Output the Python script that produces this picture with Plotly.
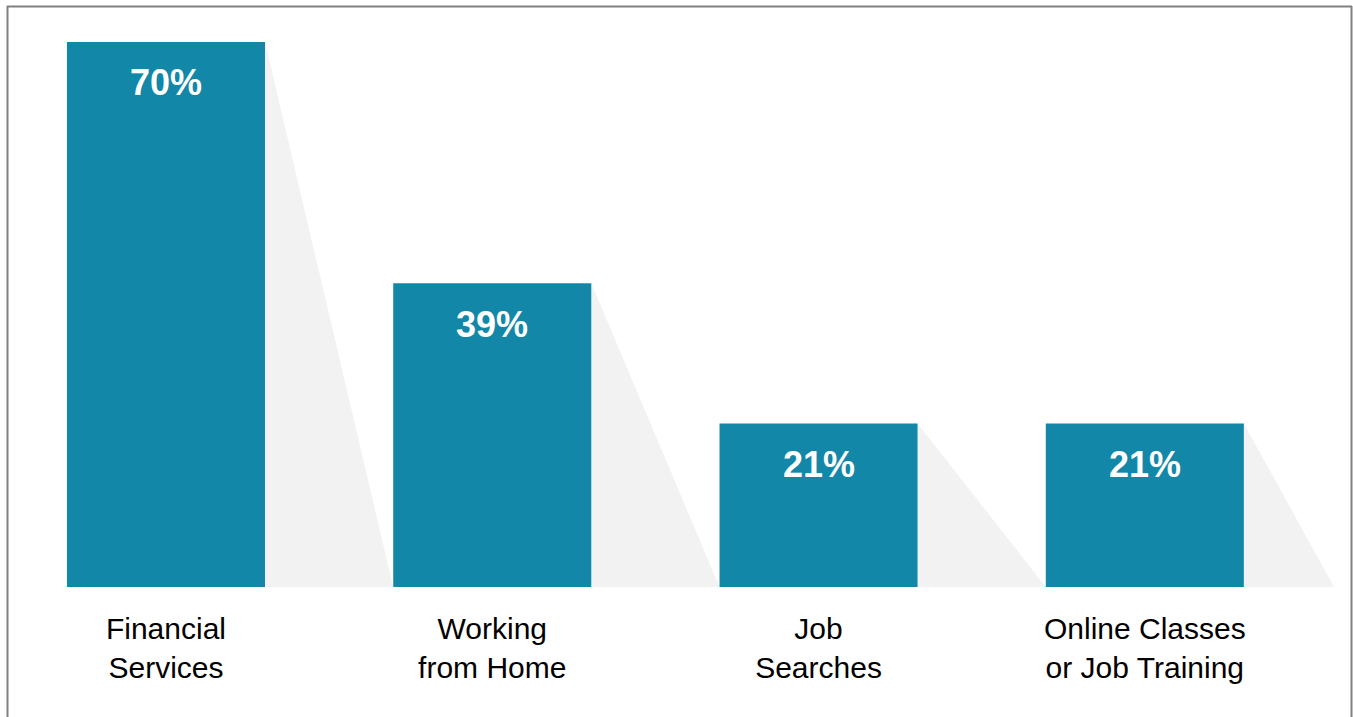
import plotly.graph_objects as go

categories = ["Financial<br>Services", "Working<br>from Home", "Job<br>Searches", "Online Classes<br>or Job Training"]
values = [70, 39, 21, 21]
labels = ["70%", "39%", "21%", "21%"]

BAR_COLOR = "#1287A8"
SHADOW_COLOR = "#F2F2F2"
BAR_W = 0.607
LAST_SHADOW_END = 3.58

fig = go.Figure()
fig.add_trace(go.Bar(
    x=categories, y=values, width=BAR_W,
    marker=dict(color=BAR_COLOR, line=dict(width=0)),
    hoverinfo="skip",
))

shapes = []
n = len(values)
for i, v in enumerate(values):
    x0 = i + BAR_W / 2
    x_end = (i + 1 - BAR_W / 2) if i < n - 1 else LAST_SHADOW_END
    shapes.append(dict(
        type="path", xref="x", yref="y", layer="below",
        path=f"M {x0},{v} L {x_end},0 L {x0},0 Z",
        fillcolor=SHADOW_COLOR, line=dict(width=0),
    ))

# border lines (left, top, right)
bc = "#808080"
shapes += [
    dict(type="line", xref="paper", yref="paper", x0=7.5/1353, x1=7.5/1353, y0=1-6/587, y1=-0.3,
         line=dict(color=bc, width=2)),
    dict(type="line", xref="paper", yref="paper", x0=7/1353, x1=1352/1353, y0=1-6.5/587, y1=1-6.5/587,
         line=dict(color=bc, width=2)),
    dict(type="line", xref="paper", yref="paper", x0=1351.5/1353, x1=1351.5/1353, y0=1-6/587, y1=-0.3,
         line=dict(color=bc, width=2)),
]

annotations = []
for i, (v, t) in enumerate(zip(values, labels)):
    annotations.append(dict(
        x=i, y=v, xref="x", yref="y", text=t, showarrow=False,
        yanchor="middle", yshift=-41,
        font=dict(family="Liberation Sans, Arial, sans-serif", size=36, color="white", weight="bold"),
    ))

fig.update_layout(
    width=1353, height=717,
    margin=dict(l=0, r=0, t=0, b=130),
    plot_bgcolor="white", paper_bgcolor="white",
    showlegend=False,
    shapes=shapes, annotations=annotations,
    xaxis=dict(
        type="category", range=[-0.5087, 3.638],
        showgrid=False, zeroline=False, showline=False,
        ticks="outside", ticklen=15, tickcolor="rgba(0,0,0,0)",
        tickfont=dict(family="Liberation Sans, Arial, sans-serif", size=30, color="black"),
    ),
    yaxis=dict(range=[0, 75.39], visible=False, showgrid=False, zeroline=False),
)

fig.write_html("out.html")
